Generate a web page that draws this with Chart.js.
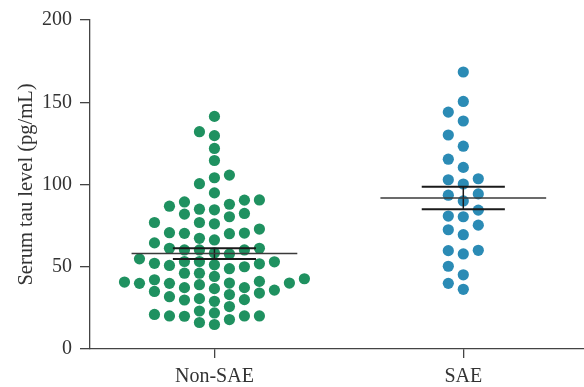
<!DOCTYPE html>
<html>
<head>
<meta charset="utf-8">
<script src="https://cdn.jsdelivr.net/npm/chart.js@4"></script>
<style>
  html, body { margin: 0; padding: 0; background: #fff; }
  #wrap { width: 584px; height: 387px; }
</style>
</head>
<body>
<div id="wrap"><canvas id="tauChart"></canvas></div>
<script>
const groups = ["Non-SAE", "SAE"];
const nonSaeValues = [141.4, 132.1, 129.7, 121.9, 114.6, 105.7, 104.1, 100.5, 94.9, 90.6, 90.5, 89.4, 88.0, 86.8, 85.0, 84.6, 82.4, 82.0, 80.4,
    76.9, 76.9, 76.1, 72.9, 70.7, 70.5, 70.3, 70.1, 67.3, 66.3, 64.5, 61.2, 61.2, 60.2, 60.2, 60.2, 58.4, 57.8, 54.8, 53.2, 53.2, 53.0, 52.1,
    51.8, 51.2, 50.8, 50.0, 48.8, 46.1, 46.1, 44.1, 42.7, 42.1, 41.1, 40.7, 40.1, 40.1, 39.9, 39.9, 39.1, 37.3, 37.3, 36.7, 35.8, 35.0, 34.0,
    33.1, 31.8, 30.6, 30.0, 29.8, 29.0, 25.8, 23.1, 21.9, 21.0, 20.1, 20.1, 20.1, 19.9, 17.9, 16.1, 14.9];
const saeValues = [168.4, 150.5, 144.0, 138.6, 130.1, 123.3, 115.4, 110.4, 103.5, 102.9, 100.3, 94.3, 93.5, 90.0, 84.4, 80.8, 80.4,
    75.3, 72.5, 69.5, 60.0, 59.8, 57.8, 50.3, 45.1, 39.9, 36.3];
const groupMeans = [58.0, 91.8];
const groupSems = [3.3, 6.9];
const yTicks = [0, 50, 100, 150, 200];

const colors = ["#1f9160", "#2b8bb5"];
const axisColor = "#444";
const serif = "'Liberation Serif', 'DejaVu Serif', serif";

// simple beeswarm: dots in columns 15px apart, no overlap closer than minDist px
const SLOT_X = 15 / 249;
function swarm(values, center) {
    const slotPx = 15, yPx = 1.655, minDist = 11.5;
    const placed = [];
    values.slice().sort((a, b) => a - b).forEach(v => {
        for (let k = 0; k < 40; k++) {
            const slot = k === 0 ? 0 : (k % 2 ? -Math.ceil(k / 2) : Math.ceil(k / 2));
            const ok = placed.every(p => {
                const dx = (p.slot - slot) * slotPx;
                const dy = (p.v - v) * yPx;
                return dx * dx + dy * dy >= minDist * minDist;
            });
            if (ok) { placed.push({ v, slot }); break; }
        }
    });
    return placed.map(p => ({ x: center + p.slot * SLOT_X, y: p.v }));
}

function segment(x1, x2, y1, y2, width, color) {
    return {
        type: "line",
        data: [{ x: x1, y: y1 }, { x: x2, y: y2 }],
        borderColor: color,
        borderWidth: width,
        pointRadius: 0,
        order: 0
    };
}

const datasets = [];
[nonSaeValues, saeValues].forEach((vals, i) => {
    datasets.push({
        type: "scatter",
        label: groups[i],
        data: swarm(vals, i + 1),
        backgroundColor: colors[i],
        borderWidth: 0,
        pointRadius: 5.6,
        order: 1
    });
});
groupMeans.forEach((m, i) => {
    const c = i + 1, s = groupSems[i];
    datasets.push(segment(c - 0.333, c + 0.333, m, m, 1.5, "#3a3a3a"));
    datasets.push(segment(c - 0.167, c + 0.167, m + s, m + s, 2, "#1a1a1a"));
    datasets.push(segment(c - 0.167, c + 0.167, m - s, m - s, 2, "#1a1a1a"));
    datasets.push(segment(c, c, m - s, m + s, 1.5, "#1a1a1a"));
});

const ctx = document.getElementById("tauChart").getContext("2d");
new Chart(ctx, {
    type: "scatter",
    data: { datasets },
    options: {
        responsive: true,
        maintainAspectRatio: false,
        animation: false,
        layout: { autoPadding: false, padding: { top: 18, right: 0, left: 0, bottom: 0 } },
        plugins: { legend: { display: false }, tooltip: { enabled: false } },
        scales: {
            x: {
                type: "linear",
                min: 0.5,
                max: 2.485,
                afterBuildTicks: s => { s.ticks = [{ value: 1 }, { value: 2 }]; },
                afterFit: s => { s.height = 38; s.paddingRight = 0; s.paddingLeft = 0; },
                ticks: {
                    callback: v => groups[v - 1],
                    color: "#333",
                    font: { family: serif, size: 20 },
                    padding: 7
                },
                grid: { drawOnChartArea: false, drawTicks: true, tickLength: 9, color: axisColor, lineWidth: 1.3 },
                border: { color: axisColor, width: 1.3 }
            },
            y: {
                min: 0,
                max: 200,
                afterBuildTicks: s => { s.ticks = yTicks.map(v => ({ value: v })); },
                afterFit: s => { s.width = 90; },
                ticks: {
                    color: "#333",
                    font: { family: serif, size: 20 },
                    padding: 8
                },
                grid: { drawOnChartArea: false, drawTicks: true, tickLength: 10, color: axisColor, lineWidth: 1.3 },
                border: { color: axisColor, width: 1.3 },
                title: {
                    display: true,
                    text: "Serum tau level (pg/mL)",
                    color: "#333",
                    font: { family: serif, size: 20.5 },
                    padding: { top: 14, bottom: 0 }
                }
            }
        }
    }
});
</script>
</body>
</html>
